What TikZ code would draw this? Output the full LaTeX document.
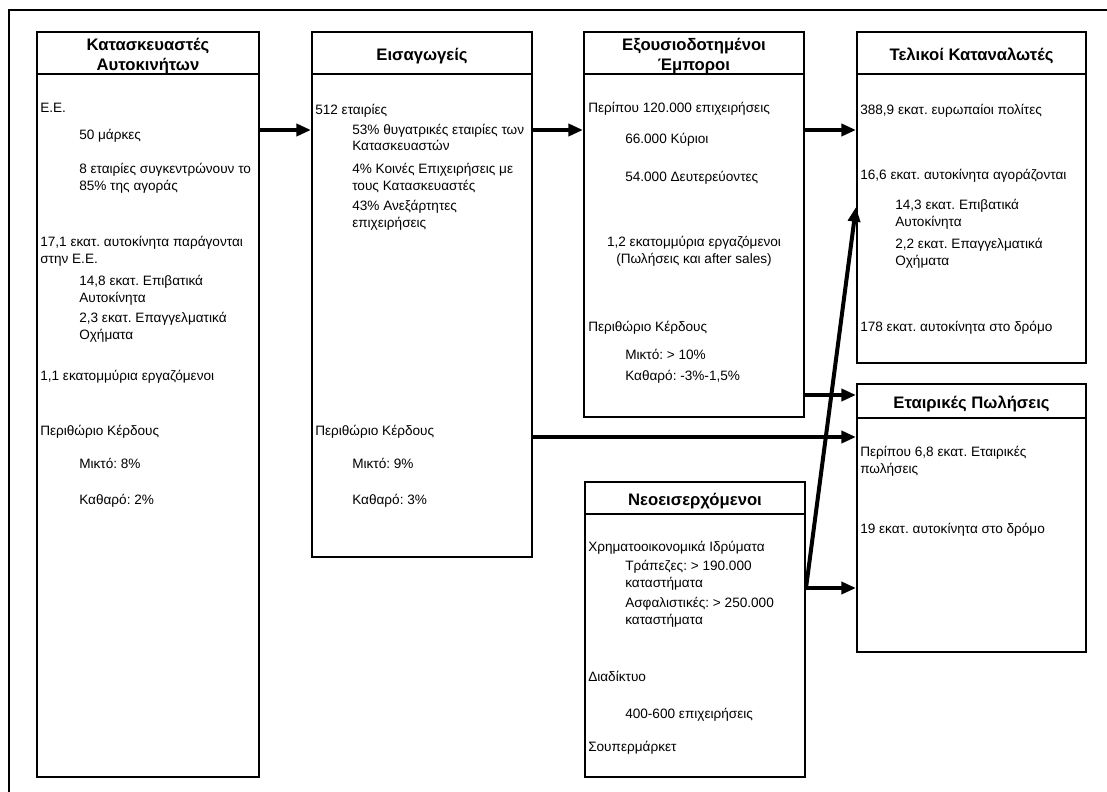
\documentclass[tikz,border=0pt]{standalone}
\usepackage{fontspec}
\setmainfont{Liberation Sans}
\frenchspacing
\usetikzlibrary{arrows.meta,fit}

\begin{document}
\begin{tikzpicture}[
  x=0.75pt, y=-0.75pt,
  box/.style={draw, line width=1.5pt, inner sep=0pt},
  head/.style={draw, line width=1.5pt, inner sep=0pt},
  hlab/.style={align=center, inner sep=0pt, yshift=-2pt, font=\bfseries\fontsize{12.5}{15}\selectfont},
  txt/.style={anchor=base west, inner sep=0pt, align=left, yshift=-1.5pt, font=\fontsize{10.2}{12.75}\selectfont},
  line/.style={-{Triangle[length=11pt, width=9pt]}, line width=3pt}
]
\useasboundingbox (0,0) rectangle (1107,792);
\draw[line width=1.1pt] (9,800) |- (1115,10);

% boxes
\node[box, fit={(37,32) (259,777)}] (mfr) {};
\node[box, fit={(312,32) (532,557)}] (imp) {};
\node[box, fit={(584,32) (804,417)}] (dlr) {};
\node[box, fit={(857,32) (1086,363)}] (cons) {};
\node[box, fit={(857,384) (1086,652)}] (fleet) {};
\node[box, fit={(585,482) (805,777)}] (newc) {};

% headers
\node[head, fit={(37,32) (259,74)}, label={[hlab]center:Κατασκευαστές\\Αυτοκινήτων}] (mfrh) {};
\node[head, fit={(312,32) (532,74)}, label={[hlab]center:Εισαγωγείς}] (imph) {};
\node[head, fit={(584,32) (804,74)}, label={[hlab]center:Εξουσιοδοτημένοι\\Έμποροι}] (dlrh) {};
\node[head, fit={(857,32) (1086,74)}, label={[hlab]center:Τελικοί Καταναλωτές}] (consh) {};
\node[head, fit={(857,384) (1086,418)}, label={[hlab]center:Εταιρικές Πωλήσεις}] (fleeth) {};
\node[head, fit={(585,482) (805,514)}, label={[hlab]center:Νεοεισερχόμενοι}] (newch) {};

% manufacturers (multi-line: y is the last line)
\node[txt] (m1) at (40,111) {Ε.Ε.};
\node[txt] (m2) at (79,137) {50 μάρκες};
\node[txt] (m3) at (79,188) {8 εταιρίες συγκεντρώνουν το\\85\% της αγοράς};
\node[txt] (m4) at (40,261) {17,1 εκατ. αυτοκίνητα παράγονται\\στην Ε.Ε.};
\node[txt] (m5) at (79,300) {14,8 εκατ. Επιβατικά\\Αυτοκίνητα};
\node[txt] (m6) at (79,337) {2,3 εκατ. Επαγγελματικά\\Οχήματα};
\node[txt] (m7) at (40,378) {1,1 εκατομμύρια εργαζόμενοι};
\node[txt] (m8) at (40,433) {Περιθώριο Κέρδους};
\node[txt] (m9) at (79,466) {Μικτό: 8\%};
\node[txt] (m10) at (79,502) {Καθαρό: 2\%};

% importers
\node[txt] (i1) at (315,112) {512 εταιρίες};
\node[txt] (i2) at (352,149) {53\% θυγατρικές εταιρίες των\\Κατασκευαστών};
\node[txt] (i3) at (352,188) {4\% Κοινές Επιχειρήσεις με\\τους Κατασκευαστές};
\node[txt] (i4) at (352,225) {43\% Ανεξάρτητες\\επιχειρήσεις};
\node[txt] (i5) at (315,433) {Περιθώριο Κέρδους};
\node[txt] (i6) at (352,466) {Μικτό: 9\%};
\node[txt] (i7) at (352,502) {Καθαρό: 3\%};

% dealers
\node[txt] (d1) at (588,111) {Περίπου 120.000 επιχειρήσεις};
\node[txt] (d2) at (625,141) {66.000 Κύριοι};
\node[txt] (d3) at (625,179) {54.000 Δευτερεύοντες};
\node[txt, anchor=base, align=center] (d4) at (694,261) {1,2 εκατομμύρια εργαζόμενοι\\(Πωλήσεις και after sales)};
\node[txt] (d5) at (588,329) {Περιθώριο Κέρδους};
\node[txt] (d6) at (625,357) {Μικτό: > 10\%};
\node[txt] (d7) at (625,378) {Καθαρό: -3\%-1,5\%};

% consumers
\node[txt] (c1) at (860,112) {388,9 εκατ. ευρωπαίοι πολίτες};
\node[txt] (c2) at (860,177) {16,6 εκατ. αυτοκίνητα αγοράζονται};
\node[txt] (c3) at (895,224) {14,3 εκατ. Επιβατικά\\Αυτοκίνητα};
\node[txt] (c4) at (895,263) {2,2 εκατ. Επαγγελματικά\\Οχήματα};
\node[txt] (c5) at (860,329) {178 εκατ. αυτοκίνητα στο δρόμο};

% fleet sales
\node[txt] (f1) at (860,471) {Περίπου 6,8 εκατ. Εταιρικές\\πωλήσεις};
\node[txt] (f2) at (860,531) {19 εκατ. αυτοκίνητα στο δρόμο};

% newcomers
\node[txt] (n1) at (588,549) {Χρηματοοικονομικά Ιδρύματα};
\node[txt] (n2) at (625,585) {Τράπεζες: > 190.000\\καταστήματα};
\node[txt] (n3) at (625,622) {Ασφαλιστικές: > 250.000\\καταστήματα};
\node[txt] (n4) at (588,679) {Διαδίκτυο};
\node[txt] (n5) at (625,716) {400-600 επιχειρήσεις};
\node[txt] (n6) at (588,749) {Σουπερμάρκετ};

% arrow levels
\coordinate (r1) at (0,130);
\coordinate (r2) at (0,395);
\coordinate (r3) at (0,437);
\coordinate (r4) at (0,588);
\coordinate (r5) at (0,207);

\draw[line] (mfr.east |- r1) -- (imp.west |- r1);
\draw[line] (imp.east |- r1) -- (dlr.west |- r1);
\draw[line] (dlr.east |- r1) -- (cons.west |- r1);
\draw[line] (dlr.east |- r2) -- (fleet.west |- r2);
\draw[line] (imp.east |- r3) -- (fleet.west |- r3);
\draw[line] (newc.east |- r4) -- (fleet.west |- r4);
\draw[line] (newc.east |- r4) -- (cons.west |- r5);
\end{tikzpicture}
\end{document}
